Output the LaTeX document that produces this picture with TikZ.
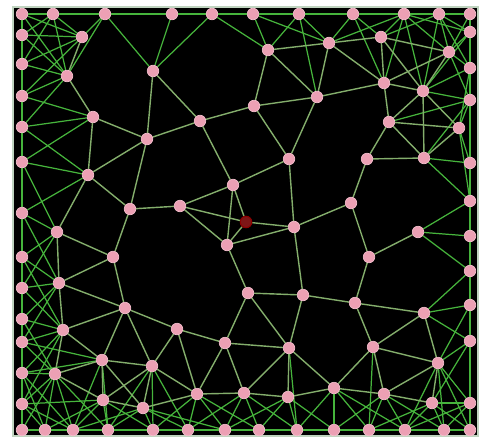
\documentclass[tikz,border=0pt]{standalone}
\usetikzlibrary{calc}

\pgfdeclarelayer{back}
\pgfdeclarelayer{wires}
\pgfsetlayers{back,wires,main}

\definecolor{meshgreen}{RGB}{132,174,108}
\definecolor{rimgreen}{RGB}{70,180,60}
\definecolor{motepink}{RGB}{236,160,180}
\definecolor{sinkred}{RGB}{125,22,22}
\definecolor{framegray}{RGB}{192,212,192}

\tikzset{
  mote/.style={circle, fill=motepink, draw=motepink!70!white, line width=0.4pt, inner sep=0pt, minimum size=0.23cm},
  sinknode/.style={circle, fill=sinkred, draw=red!55!black, line width=0.6pt, inner sep=0pt, minimum size=0.23cm},
  link/.style={draw=meshgreen, line width=0.8pt},
  fan/.style={draw=rimgreen, line width=0.7pt}
}

% motes on the border: top, right, bottom, left
\def\rimpts{22/14, 53/14, 105/14, 172/14, 212/14, 253/14, 299/14, 353/14, 404/14, 439/14, 470/14,
  470/32, 470/68, 470/100, 470/163, 470/201, 470/236, 470/271, 470/305, 470/341, 470/403,
  470/430, 444/430, 405/430, 369/430, 334/430, 297/430, 259/430, 225/430, 188/430, 153/430, 108/430, 73/430, 45/430, 22/430,
  22/404, 22/373, 22/342, 22/319, 22/288, 22/257, 22/213, 22/162, 22/127, 22/96, 22/64, 22/35}
% motes inside the field
\def\corepts{82/37, 67/76, 153/71, 93/117, 147/139, 200/121, 88/175, 130/209, 180/206, 233/185,
  268/50, 329/43, 381/37, 449/52, 384/83, 423/91, 254/106, 317/97, 389/122, 459/128,
  289/159, 367/159, 424/158, 351/203, 227/245, 294/227, 418/232, 369/257, 57/232, 113/257,
  59/283, 125/308, 63/330, 177/329, 225/343, 248/293, 303/295, 355/303, 424/313, 102/360,
  152/366, 55/374, 289/348, 373/347, 438/363, 103/400, 143/408, 197/394, 244/393, 288/397,
  334/388, 384/394, 432/403}
\def\range{73}
\def\rimrange{85}

\begin{document}
\begin{tikzpicture}[x=0.02cm, y=-0.02cm]
  \useasboundingbox (0,0) rectangle (482,439);
  \begin{pgfonlayer}{back}
    \fill[black] (13,7) rectangle (478,436);
    \draw[framegray, line width=1.3pt] (13,7) rectangle (478,436);
  \end{pgfonlayer}

  \foreach \x/\y [count=\i] in \rimpts
    \node[mote] (r\i) at (\x,\y) {};
  \foreach \x/\y [count=\i] in \corepts
    \node[mote] (c\i) at (\x,\y) {};
  \node[sinknode] (sink) at (246,222) {};

  % radio links: any two motes within range
  \begin{pgfonlayer}{wires}
    \foreach \ax/\ay [count=\i] in \rimpts {
      \foreach \bx/\by [count=\j] in \rimpts {
        \ifnum\j>\i
          \pgfmathtruncatemacro\near{veclen(\bx-\ax,\by-\ay)<\rimrange}
          \ifnum\near=1 \draw[fan] (r\i) -- (r\j); \fi
        \fi
      }
      \foreach \bx/\by [count=\j] in \corepts {
        \pgfmathtruncatemacro\near{veclen(\bx-\ax,\by-\ay)<\rimrange}
        \ifnum\near=1 \draw[fan] (r\i) -- (c\j); \fi
      }
    }
    \foreach \ax/\ay [count=\i] in \corepts {
      \foreach \bx/\by [count=\j] in \corepts {
        \ifnum\j>\i
          \pgfmathtruncatemacro\near{veclen(\bx-\ax,\by-\ay)<\range}
          \ifnum\near=1 \draw[link] (c\i) -- (c\j); \fi
        \fi
      }
    }
    \foreach \t in {9,10,25,26}
      \draw[link] (sink) -- (c\t);
  \end{pgfonlayer}
\end{tikzpicture}
\end{document}
